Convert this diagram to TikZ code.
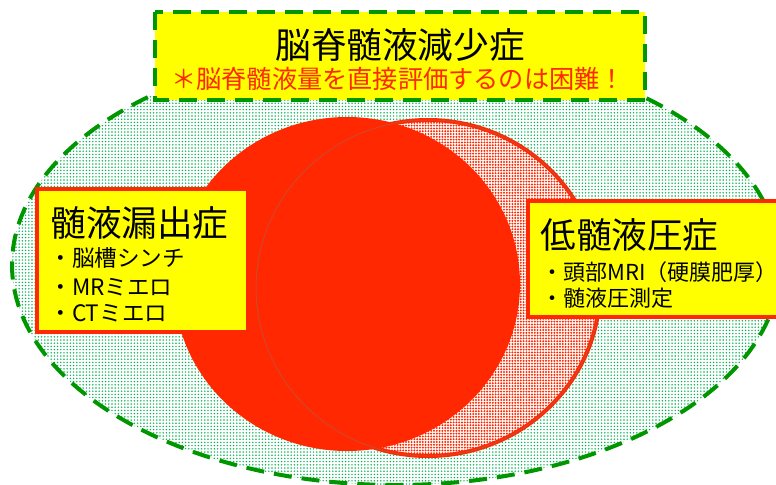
\documentclass[tikz,border=0pt]{standalone}
\usepackage{fontspec}
\setmainfont{Noto Sans CJK JP}
\usetikzlibrary{patterns.meta}
\definecolor{dashgreen}{RGB}{0,150,0}
\definecolor{dotgreen}{RGB}{0,176,80}
\definecolor{red1}{RGB}{255,40,0}
\definecolor{yellow1}{RGB}{255,255,0}

\begin{document}
\begin{tikzpicture}[x=0.5pt, y=-0.5pt,
  greendash/.style={draw=dashgreen, line width=2pt, dash pattern=on 9pt off 5pt},
  yellowbox/.style={fill=yellow1, draw=red1, line width=2.2pt},
  bigtext/.style={font=\fontsize{17.8}{20}\selectfont, inner sep=0pt},
  itemtext/.style={font=\fontsize{11.3}{13}\selectfont, inner sep=0pt, anchor=west}]
  \useasboundingbox (0,0) rectangle (776,484);

  % outer ellipse
  \fill[white] (396,265) ellipse [x radius=384, y radius=220];
  \path[pattern={Dots[distance=1.6pt, radius=0.4pt]}, pattern color=dotgreen]
    (396,265) ellipse [x radius=384, y radius=220];
  \draw[greendash] (396,265) ellipse [x radius=384, y radius=220];

  % circles
  \fill[white] (428,288) ellipse [x radius=172, y radius=168];
  \path[pattern={Dots[distance=1.4pt, radius=0.55pt]}, pattern color=red1]
    (428,288) ellipse [x radius=172, y radius=168];
  \draw[red1, line width=2pt] (428,288) ellipse [x radius=172, y radius=168];
  \fill[red1] (347,284) ellipse [x radius=173, y radius=167];
  \draw[gray, opacity=0.35, line width=0.5pt] (428,288) ellipse [x radius=172, y radius=168];

  % boxes
  \filldraw[fill=yellow1, greendash] (155,12) rectangle (645,100);
  \filldraw[yellowbox] (37,189) rectangle (248,332);
  \filldraw[yellowbox] (528,201) rectangle (800,317);

  % top
  \node[bigtext] (title) at (400,45) {脳脊髄液減少症};
  \node[font=\fontsize{12.6}{14}\selectfont, inner sep=0pt, text=red1] (note) at (398,79)
    {＊脳脊髄液量を直接評価するのは困難！};

  % left box
  \node[bigtext, anchor=west] (leak) at (50,223) {髄液漏出症};
  \node[itemtext] (leak1) at (49,258) {・脳槽シンチ};
  \node[itemtext] (leak2) at (49,287) {・MRミエロ};
  \node[itemtext] (leak3) at (49,313) {・CTミエロ};

  % right box
  \node[bigtext, anchor=west] (lowp) at (540,235) {低髄液圧症};
  \node[itemtext, font=\fontsize{11}{13}\selectfont] (lowp1) at (541,272) {・頭部MRI（硬膜肥厚）};
  \node[itemtext, font=\fontsize{11}{13}\selectfont] (lowp2) at (541,298) {・髄液圧測定};
\end{tikzpicture}
\end{document}
